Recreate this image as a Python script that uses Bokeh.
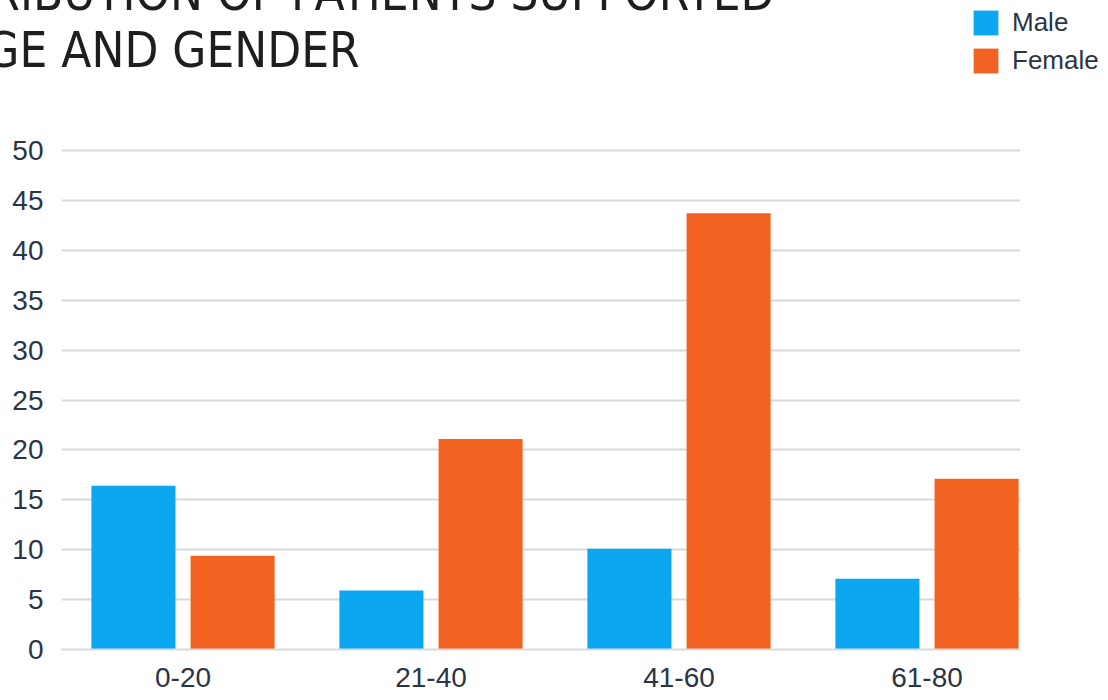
from bokeh.plotting import figure
from bokeh.models import (ColumnDataSource, Range1d, FixedTicker, Legend, LegendItem, Title)
from bokeh.embed import file_html
from bokeh.resources import INLINE

# ---- data ----
categories = ["0-20", "21-40", "41-60", "61-80"]
male = [16.4, 5.9, 10.1, 7.1]
female = [9.4, 21.1, 43.7, 17.1]
y_ticks = [0, 5, 10, 15, 20, 25, 30, 35, 40, 45, 50]
title_lines = ["DISTRIBUTION OF PATIENTS SUPPORTED", "BY AGE AND GENDER"]

MALE_COLOR = "#0BA8F1"
FEMALE_COLOR = "#F26322"
TEXT_COLOR = "#2B3445"
GRID_COLOR = "#D9D9D9"

# ---- layout geometry (pixels) ----
FRAME_TOP = 45          # frame starts here; value 50 sits at y=150
PX_PER_UNIT = 499 / 50  # vertical scale
y_top = 50 + (150 - FRAME_TOP) / PX_PER_UNIT

idx = list(range(len(categories)))
src = ColumnDataSource(dict(
    xm=[i - 0.2 for i in idx],
    xf=[i + 0.2 for i in idx],
    male=male,
    female=female,
))

p = figure(
    output_backend="svg", toolbar_location=None,
    frame_width=959, frame_height=649 - FRAME_TOP,
    min_border_left=61, min_border_right=80, min_border_top=FRAME_TOP, min_border_bottom=51,
    x_range=Range1d(-0.49, 3.377), y_range=Range1d(0, y_top),
    background_fill_color="white", border_fill_color="white",
)
p.outline_line_color = None

rm = p.vbar(x="xm", top="male", width=0.339, source=src, color=MALE_COLOR, line_color=None)
rf = p.vbar(x="xf", top="female", width=0.339, source=src, color=FEMALE_COLOR, line_color=None)

# axes
p.xaxis.ticker = FixedTicker(ticks=idx)
p.xaxis.major_label_overrides = {i: c for i, c in zip(idx, categories)}
p.yaxis.ticker = FixedTicker(ticks=y_ticks)
for ax in (p.xaxis, p.yaxis):
    ax.major_tick_line_color = None
    ax.minor_tick_line_color = None
    ax.major_tick_out = 0
    ax.major_tick_in = 0
    ax.major_label_text_font = "Liberation Sans"
    ax.major_label_text_font_size = "28px"
    ax.major_label_text_color = TEXT_COLOR
p.yaxis.axis_line_color = None
p.yaxis.major_label_standoff = 18
p.xaxis.axis_line_color = GRID_COLOR
p.xaxis.axis_line_width = 2
p.xaxis.major_label_standoff = 18

p.xgrid.grid_line_color = None
p.ygrid.grid_line_color = GRID_COLOR
p.ygrid.grid_line_width = 2

# legend in the right side panel, pulled left/up with a negative margin
legend = Legend(
    items=[LegendItem(label="Male", renderers=[rm]), LegendItem(label="Female", renderers=[rf])],
    location="top_left", orientation="vertical",
    title=" ", title_text_font_size="10px", title_standoff=1,
    glyph_width=31, glyph_height=31, label_height=25, spacing=7,
    label_standoff=11, padding=0, margin=-50,
    border_line_color=None, background_fill_alpha=0,
    label_text_font="Liberation Sans", label_text_font_size="26px",
    label_text_color=TEXT_COLOR,
)
p.add_layout(legend, "right")

# title (cropped at the top-left as in the reference)
p.add_layout(Title(
    text="\n".join(title_lines), align="left", offset=-174, standoff=FRAME_TOP - 2 - 114,
    vertical_align="top",
    text_font="DejaVu Sans Condensed", text_font_size="49px", text_color="#1E1E1E",
    text_font_style="normal", text_line_height=1.0,
), "above")

open("out.html", "w").write(file_html(p, INLINE))
